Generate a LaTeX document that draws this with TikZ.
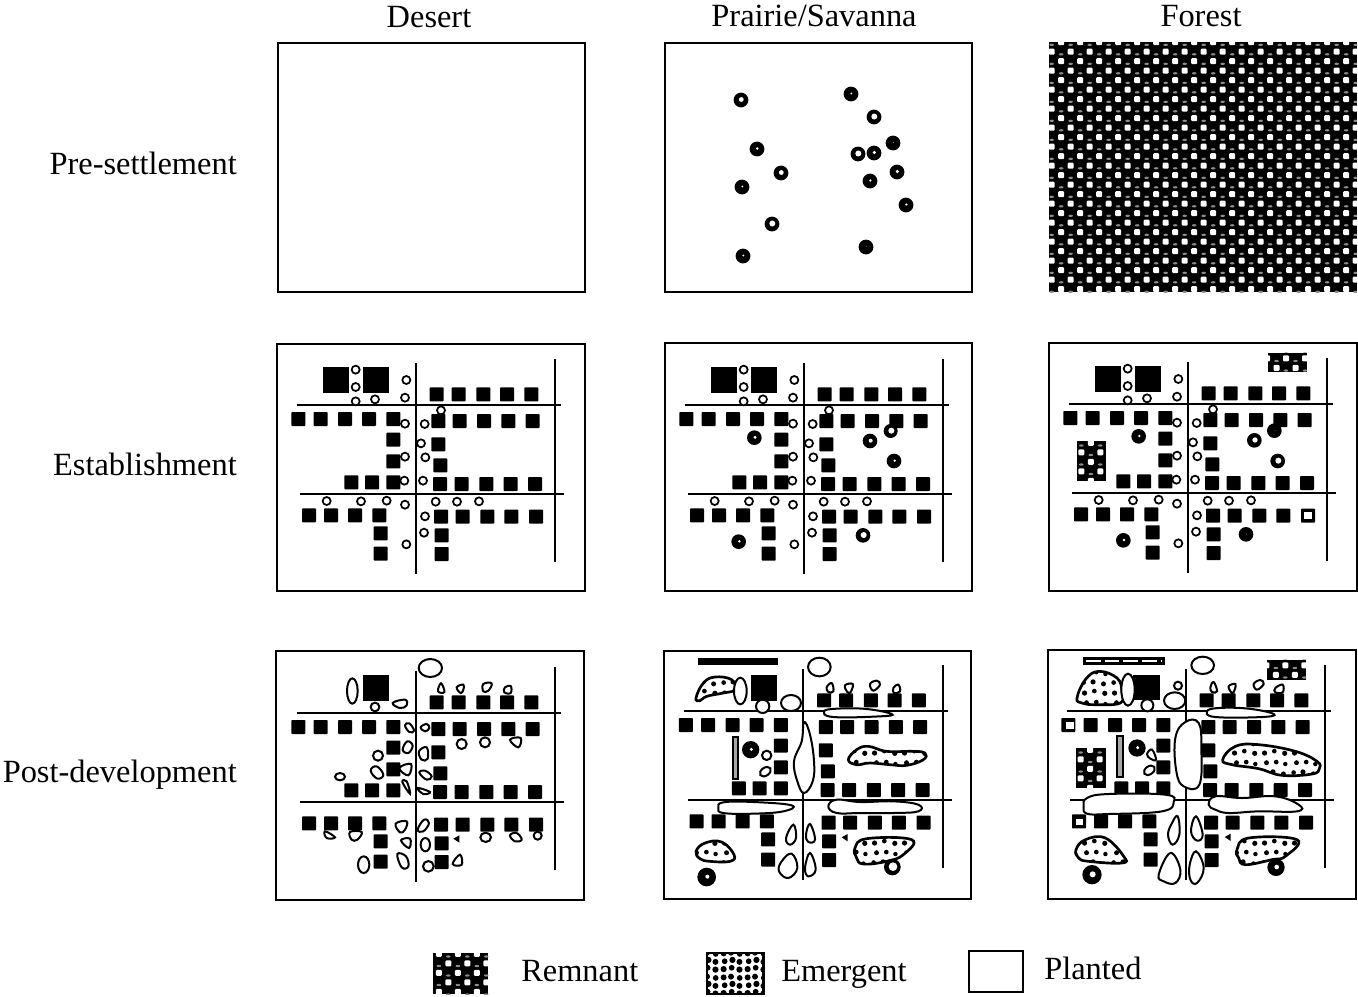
\documentclass[tikz,border=0pt]{standalone}
\usepackage{fontspec}
\setmainfont{Liberation Serif}
\usetikzlibrary{patterns}

\pgfdeclarepatternformonly{emergentdots}{\pgfpointorigin}{\pgfqpoint{22.5pt}{22.5pt}}{\pgfqpoint{22.5pt}{22.5pt}}{
  \foreach \x/\y/\r in {3.5/3/2,11/4.5/1.8,19/2.8/2,2.8/11/1.8,10/11.5/2,18/10/1.9,5/18.5/1.9,12.5/19/1.8,19.5/17.5/1.7}{
    \pgfpathcircle{\pgfpoint{\x pt}{\y pt}}{\r pt}
    \pgfusepath{fill}
  }
}
\pgfdeclarepatternformonly{emergentkey}{\pgfpointorigin}{\pgfqpoint{18pt}{18pt}}{\pgfqpoint{18pt}{18pt}}{
  \foreach \x/\y/\r in {2.8/3/2.4,9/4/2.2,15/2.6/2.4,3.6/9/2.2,9.6/10/2.4,15/8.5/2.3,2.8/15/2.3,8.5/15.6/2.3,15.2/14.6/2.2}{
    \pgfpathcircle{\pgfpoint{\x pt}{\y pt}}{\r pt}
    \pgfusepath{fill}
  }
}

\tikzset{
  crop/.style 2 args={shift={(#1,#2)},x=.25pt,y=-.25pt},
  frame/.style={draw=black,line width=1.9pt},
  road/.style={draw=black,line width=1.7pt},
  lot/.style={fill=black,rounded corners=.6pt},
  ring/.style={draw=black,fill=white,line width=1.3pt},
  planted/.style={draw=black,fill=white,line width=1.5pt},
  emergent/.style={draw=black,line width=2pt,preaction={fill=white},pattern=emergentdots},
  label/.style={font=\fontsize{24.3}{28}\selectfont,text=black,inner sep=0pt}
}

\newcommand{\blob}[2]{\draw[#1] plot[smooth cycle,tension=.7] coordinates {#2};}

\newcommand{\roads}{
  \draw[road] (80,195) -- (872,195);
  \draw[road] (90,461) -- (882,461);
  \draw[road] (437,70) -- (437,702);
  \draw[road] (856,57) -- (856,665);
}

\newcommand{\lots}{
  \foreach \x/\y in {500/163,566/163,640/163,711/163,784/163,
    85/237,152/237,225/237,297/237,370/237,505/243,569/243,642/243,715/243,788/243,
    370/299,370/364,505/313,511/376,
    244/427,306/427,370/427,510/432,575/432,649/432,722/432,795/432,
    117/526,183/526,255/526,328/526,513/530,578/530,652/530,724/530,798/530,
    332/580,332/641,515/586,515/642}
    \fill[lot] (\x-21,\y-21) rectangle ++(42,42);
}

\newcommand{\rings}{
  \foreach \x/\y in {257/89,257/141,257/184,315/178,409/120,405/173,513/211,405/251,464/252,
    453/310,405/350,466/352,403/422,459/422,170/483,273/484,350/482,405/494,497/485,561/485,
    627/484,465/529,462/578,409/613}
    \draw[ring] (\x,\y) circle (12);
}

\newcommand{\bigsquares}{
  \fill[black] (159,82) rectangle (237,160);
  \fill[black] (278,82) rectangle (356,160);
}

\newcommand{\tree}[4]{
  \fill[black] (#1,#2) circle (#3);
  \fill[white] (#1+2,#2-1) circle (#4);
}

% black ground, white dots on a staggered lattice
\newcommand{\remnantpatch}[6]{
  \fill[black] (#1,#2) rectangle (#3,#4);
  \begin{scope}
    \clip (#1,#2) rectangle (#3,#4);
    \pgfmathtruncatemacro{\nrow}{(#4-#2)/28.5}
    \pgfmathtruncatemacro{\ncol}{(#3-#1)/57+1}
    \foreach \r in {-1,...,\nrow}
      \foreach \c in {-1,...,\ncol}{
        \fill[white,rounded corners=.8pt] ({#1+#5+57*\c+28.5*mod(\r+2,2)},{#2+#6+28.5*\r}) ++(-9,-9) rectangle ++(18,18);
        \fill[black!45] ({#1+#5+57*\c+28.5*mod(\r+2,2)+28.5},{#2+#6+28.5*\r+8}) ellipse (7 and 3.5);
      }
  \end{scope}
}

\newcommand{\thinbar}[4]{
  \fill[black] (#1,#2) rectangle (#3,#4);
  \fill[black!35] (#1+6,#2+6) rectangle (#3-6,#4-6);
}

\newcommand{\whitelot}[2]{
  \fill[white] (#1-11,#2-10) rectangle ++(22,20);
}

\begin{document}
\begin{tikzpicture}[x=.75pt,y=-.75pt]
  \useasboundingbox (0,0) rectangle (1358,996);

  \node[label,anchor=base] (desert) at (429,27) {Desert};
  \node[label,anchor=base] (prairie) at (814,26) {Prairie/Savanna};
  \node[label,anchor=base] (forest) at (1201,26) {Forest};
  \node[label,anchor=base east] (presettlement) at (237,174) {Pre-settlement};
  \node[label,anchor=base east] (establishment) at (237,475) {Establishment};
  \node[label,anchor=base east] (postdevelopment) at (237,782) {Post-development};
  \node[label,anchor=base west] (remnant) at (521,981) {Remnant};
  \node[label,anchor=base west] (emerging) at (781,981) {Emergent};
  \node[label,anchor=base west] (plantedtext) at (1044,979) {Planted};

  % pre-settlement
  \draw[frame] (278,43) rectangle (585,292);
  \foreach \x/\y/\w in {741/100/2.4,851/94/1,874/117/3,893/143/.4,757/149/1.4,858/154/3,874/153/1.8,
    897/172/1.8,870/181/1.3,781/173/2.4,742/187/1,906/205/1.2,772/224/3,743/256/1,866/247/.3}{
    \fill[black] (\x,\y) circle (7.4);
    \fill[white] (\x+.3,\y-.5) circle (\w);
  }
  \draw[frame] (665,43) rectangle (972,292);
  \begin{scope}[crop={1040}{35}]
    \remnantpatch{27}{21}{951}{771}{8}{29}
  \end{scope}

  % establishment
  \begin{scope}[crop={270}{340}]
    \roads \lots \bigsquares \rings
  \end{scope}
  \draw[frame] (277,344) rectangle (585,591);

  \begin{scope}[crop={658}{340}]
    \roads \lots \bigsquares \rings
    \tree{289}{293}{22}{5}
    \tree{636}{303}{22}{6}
    \tree{698}{273}{21}{9}
    \tree{708}{363}{22}{4}
    \tree{242}{605}{22}{4}
    \tree{615}{586}{22}{9}
  \end{scope}
  \draw[frame] (665,343) rectangle (972,591);

  \begin{scope}[crop={1042}{339}]
    \roads \lots \bigsquares \rings
    \tree{290}{292}{22}{4}
    \tree{637}{304}{22}{8}
    \tree{697}{275}{22}{1}
    \tree{707}{366}{22}{9}
    \tree{244}{604}{22}{4}
    \tree{612}{586}{22}{1}
    \whitelot{798}{530}
    \remnantpatch{677}{41}{795}{100}{55}{17}
    \remnantpatch{105}{306}{192}{425}{13}{34}
  \end{scope}
  \draw[frame] (1049,343) rectangle (1357,591);

  % post-development, desert
  \begin{scope}[crop={270}{648}]
    \roads \lots
    \fill[black] (278,82) rectangle (356,160);
    \draw[planted] (247,129) ellipse (16 and 38);
    \draw[planted] (481,60) ellipse (35 and 27);
    \draw[planted] (315,177) circle (13);
    \blob{planted}{(368,165)(405,155)(410,172)(390,180)}
    \blob{planted}{(513,106)(523,132)(504,130)}
    \blob{planted}{(560,118)(580,110)(580,125)(572,135)}
    \blob{planted}{(640,108)(665,106)(655,128)(640,130)}
    \blob{planted}{(705,118)(722,114)(722,135)(703,133)}
    \blob{planted}{(405,232)(418,226)(432,248)(418,252)}
    \blob{planted}{(452,238)(470,228)(478,240)(465,250)}
    \draw[planted] (575,288) circle (15);
    \draw[planted] (645,283) circle (15);
    \blob{planted}{(720,275)(752,270)(745,298)}
    \blob{planted}{(398,305)(412,280)(428,293)(415,315)}
    \draw[planted] (324,323) circle (15);
    \blob{planted}{(447,310)(470,298)(473,332)(455,335)}
    \blob{planted}{(302,368)(320,355)(340,380)(322,392)}
    \blob{planted}{(388,360)(423,348)(415,382)}
    \draw[planted] (210,386) ellipse (15 and 11);
    \blob{planted}{(448,374)(465,368)(485,385)(470,395)}
    \blob{planted}{(397,402)(410,400)(420,437)}
    \blob{planted}{(443,420)(480,432)(460,438)}
    \blob{planted}{(377,527)(410,520)(405,545)(390,553)}
    \blob{planted}{(443,545)(462,515)(477,525)(460,550)}
    \blob{planted}{(165,550)(195,568)(170,570)}
    \blob{planted}{(240,552)(275,552)(262,575)(245,575)}
    \blob{planted}{(393,577)(420,572)(417,600)}
    \draw[planted] (466,590) ellipse (14 and 20);
    \fill[black] (550,572) -- (568,562) -- (568,584) -- cycle;
    \draw[planted] (647,568) ellipse (16 and 14);
    \blob{planted}{(720,562)(740,555)(755,575)(735,580)}
    \draw[planted] (803,563) circle (12);
    \draw[planted] (281,650) ellipse (17 and 25);
    \blob{planted}{(382,618)(408,625)(415,655)(395,658)}
    \draw[planted] (475,655) circle (16);
    \blob{planted}{(548,648)(570,620)(575,650)}
  \end{scope}
  \draw[frame] (276,651) rectangle (584,900);

  % post-development, prairie
  \begin{scope}[crop={657.5}{646}]
    \roads \lots
  \end{scope}
  \begin{scope}[crop={660}{648}]
    \fill[black] (115,30) rectangle (355,50);
    \fill[black] (272,82) rectangle (350,158);
    \blob{emergent}{(108,150)(130,105)(165,87)(215,95)(225,125)(190,135)(140,145)(120,158)}
    \draw[planted] (241,129) ellipse (19 and 40);
    \draw[planted] (308,175) circle (20);
    \draw[planted] (393,165) ellipse (30 and 24);
    \draw[planted] (478,57) ellipse (34 and 28);
    \blob{planted}{(500,118)(515,105)(520,130)(505,132)}
    \blob{planted}{(555,112)(578,108)(572,132)(562,132)}
    \blob{planted}{(630,108)(650,98)(660,110)(640,128)}
    \blob{planted}{(700,120)(715,110)(720,130)(702,135)}
    \blob{planted}{(492,190)(530,182)(620,183)(695,198)(660,205)(520,207)}
    \blob{planted}{(432,222)(450,260)(462,340)(458,400)(432,435)(412,400)(402,340)(425,280)}
    \thinbar{216}{265}{238}{396}
    \tree{272}{305}{26}{5}
    \draw[planted] (320,322) circle (14);
    \draw[planted,rotate around={35:(316,371)}] (316,371) ellipse (18 and 12);
    \blob{emergent}{(565,335)(590,305)(625,295)(680,310)(760,310)(795,315)(790,335)(740,352)(690,350)(630,345)(590,350)}
    \blob{planted}{(175,480)(190,463)(280,462)(395,472)(370,490)(280,497)(190,495)}
    \blob{planted}{(505,475)(530,455)(600,462)(700,460)(775,470)(775,490)(700,495)(600,495)(530,495)}
    \blob{planted}{(400,530)(408,570)(390,590)(378,570)}
    \blob{planted}{(450,528)(465,575)(445,582)(438,560)}
    \blob{planted}{(395,617)(412,660)(385,690)(357,670)(365,640)}
    \blob{planted}{(450,615)(467,665)(445,685)(435,660)}
    \fill[black] (545,568) -- (563,558) -- (563,580) -- cycle;
    \blob{emergent}{(108,610)(135,585)(185,582)(222,620)(210,640)(150,640)(120,632)}
    \blob{emergent}{(585,600)(620,572)(755,575)(730,620)(680,640)(610,648)(590,630)}
    \tree{140}{687}{28}{6}
    \tree{697}{657}{25}{13}
  \end{scope}
  \draw[frame] (664,651) rectangle (971,899);

  % post-development, forest
  \begin{scope}[crop={1040}{646}]
    \roads \lots
  \end{scope}
  \begin{scope}[crop={1042}{648}]
    \fill[black] (122,28) rectangle (368,52);
    \draw[white,line width=1.6pt,dash pattern=on 11pt off 3pt] (132,40) -- (360,40);
    \fill[black] (272,80) rectangle (355,155);
    \remnantpatch{675}{35}{792}{95}{55}{17}
    \blob{emergent}{(105,150)(130,95)(170,70)(225,90)(240,130)(235,165)(160,170)(120,165)}
    \draw[planted] (258,125) ellipse (20 and 48);
    \draw[planted] (316,172) circle (18);
    \draw[planted] (408,113) circle (12);
    \draw[planted] (398,158) ellipse (32 and 25);
    \draw[planted] (482,52) ellipse (34 and 26);
    \blob{planted}{(505,118)(515,102)(525,130)(510,132)}
    \blob{planted}{(560,115)(580,108)(578,125)(570,135)}
    \blob{planted}{(635,108)(655,96)(665,108)(645,125)}
    \blob{planted}{(700,120)(722,110)(722,133)(700,133)}
    \blob{planted}{(495,190)(530,180)(620,182)(695,198)(660,207)(520,207)}
    \blob{planted}{(430,222)(470,225)(478,300)(472,410)(425,415)(403,370)(400,270)}
    \blob{emergent}{(542,335)(580,295)(650,290)(760,310)(825,340)(832,362)(810,378)(720,382)(650,362)(570,350)}
    \whitelot{84}{232}
    \thinbar{223}{262}{246}{390}
    \remnantpatch{103}{300}{192}{420}{13}{34}
    \tree{285}{300}{26}{5}
    \blob{planted}{(315,318)(330,305)(342,335)(325,332)}
    \draw[planted,rotate around={35:(322,367)}] (322,367) ellipse (18 and 12);
    \blob{planted}{(125,475)(135,450)(200,438)(370,440)(395,462)(360,490)(200,498)(135,497)}
    \blob{planted}{(500,470)(520,445)(600,450)(700,445)(770,470)(765,490)(650,490)(560,495)(520,485)}
    \whitelot{113}{522}
    \blob{planted}{(407,505)(412,560)(392,590)(378,560)(390,525)}
    \blob{planted}{(462,505)(482,560)(465,578)(447,550)}
    \blob{planted}{(385,615)(415,665)(400,705)(365,700)(350,680)}
    \blob{planted}{(462,610)(485,660)(465,705)(445,695)(443,650)}
    \fill[black] (548,567) -- (566,557) -- (566,579) -- cycle;
    \blob{emergent}{(102,605)(130,575)(190,570)(245,625)(240,645)(140,640)(110,630)}
    \blob{emergent}{(585,605)(620,570)(765,575)(730,625)(690,635)(610,650)(590,630)}
    \tree{150}{680}{29}{9}
    \tree{702}{658}{26}{7}
  \end{scope}
  \draw[frame] (1048,650) rectangle (1356,899);

  % key
  \begin{scope}[crop={420}{940}]
    \remnantpatch{39}{39}{205}{162}{46}{31}
    \draw[emergent,pattern=emergentkey] (861,39) rectangle (1030,162);
  \end{scope}
  \draw[frame] (969,951) rectangle (1023,992);
\end{tikzpicture}
\end{document}
